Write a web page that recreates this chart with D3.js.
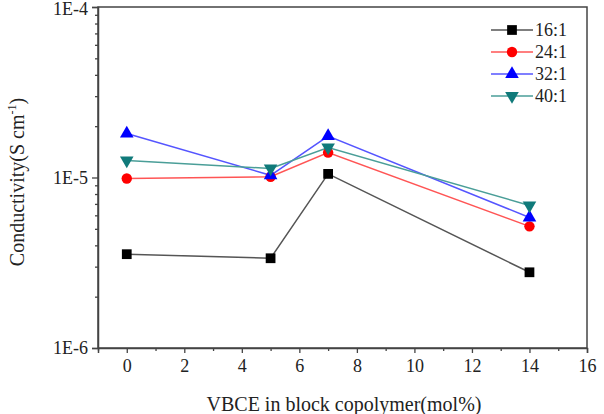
<!DOCTYPE html>
<html>
<head>
<meta charset="utf-8">
<script src="https://cdn.jsdelivr.net/npm/d3@7"></script>
<style>
  body { margin: 0; background: #fff; }
  svg text { font-family: "Liberation Serif", "Times New Roman", serif; fill: #222; }
</style>
</head>
<body>
<div id="chart"></div>
<script>
// VBCE content (mol%)
const xValues = [0, 5, 7, 14];
// conductivity (S cm-1) per EO:Li ratio
const s16 = [3.55e-6, 3.36e-6, 1.05e-5, 2.78e-6];
const s24 = [9.87e-6, 1.01e-5, 1.40e-5, 5.17e-6];
const s32 = [1.81e-5, 1.03e-5, 1.75e-5, 5.83e-6];
const s40 = [1.26e-5, 1.13e-5, 1.50e-5, 6.86e-6];
const seriesNames = ["16:1", "24:1", "32:1", "40:1"];
const xTicks = [0, 2, 4, 6, 8, 10, 12, 14, 16];
const yTicks = [1e-6, 1e-5, 1e-4];
const yTickLabels = ["1E-6", "1E-5", "1E-4"];

const series = [
    { name: seriesNames[0], values: s16, color: "#000000", line: "#555555", shape: d3.symbolSquare, size: 95, rot: 0 },
    { name: seriesNames[1], values: s24, color: "#ff0000", line: "#ff5555", shape: d3.symbolCircle, size: 85, rot: 0 },
    { name: seriesNames[2], values: s32, color: "#0000ff", line: "#5555ff", shape: d3.symbolTriangle, size: 80, rot: 0 },
    { name: seriesNames[3], values: s40, color: "#107a7a", line: "#4a9e98", shape: d3.symbolTriangle, size: 80, rot: 180 }
];

const width = 604, height = 414;
const margin = { top: 7, right: 17, bottom: 66, left: 98 };

const svg = d3.select("#chart").append("svg")
    .attr("width", width)
    .attr("height", height);

const x = d3.scaleLinear().domain([-1, 16]).range([margin.left, width - margin.right]);
const y = d3.scaleLog().domain([1e-6, 1e-4]).range([height - margin.bottom, margin.top]);

// frame (top and right)
svg.append("rect")
    .attr("x", margin.left).attr("y", margin.top)
    .attr("width", width - margin.right - margin.left)
    .attr("height", height - margin.bottom - margin.top)
    .attr("fill", "none").attr("stroke", "#444").attr("stroke-width", 1.5);

// x axis
svg.append("g")
    .attr("transform", `translate(0,${height - margin.bottom})`)
    .call(d3.axisBottom(x).tickValues(xTicks).tickSize(5).tickPadding(6).tickFormat(d3.format("d")));
svg.append("g")
    .attr("transform", `translate(0,${height - margin.bottom})`)
    .call(d3.axisBottom(x).tickValues([-1, 1, 3, 5, 7, 9, 11, 13, 15]).tickSize(3).tickFormat(""))
    .call(g => g.select(".domain").remove());

// y axis
const minor = [];
[1e-6, 1e-5].forEach(b => { for (let k = 2; k <= 9; k++) minor.push(b * k); });
const yAxis = svg.append("g")
    .attr("transform", `translate(${margin.left},0)`)
    .call(d3.axisLeft(y).tickValues(yTicks).tickSize(6).tickPadding(4)
        .tickFormat((d, i) => yTickLabels[i]));
svg.append("g")
    .attr("transform", `translate(${margin.left},0)`)
    .call(d3.axisLeft(y).tickValues(minor).tickSize(3).tickFormat(""))
    .call(g => g.select(".domain").remove());

svg.selectAll(".domain").attr("stroke", "#444").attr("stroke-width", 1.5);
svg.selectAll(".tick line").attr("stroke", "#444").attr("stroke-width", 1.3);
svg.selectAll(".tick text").style("font-size", "18px").attr("fill", "#222");
// keep the top label inside the picture
yAxis.selectAll(".tick text").filter(d => d === 1e-4).attr("dy", "0.42em");

// series lines and markers
const line = d3.line().x((d, i) => x(xValues[i])).y(d => y(d));
series.forEach(s => {
    svg.append("path")
        .datum(s.values)
        .attr("d", line)
        .attr("fill", "none")
        .attr("stroke", s.line)
        .attr("stroke-width", 1.5);
});
series.forEach(s => {
    svg.selectAll(null)
        .data(s.values)
        .enter()
        .append("path")
        .attr("d", d3.symbol().type(s.shape).size(s.size))
        .attr("transform", (d, i) => `translate(${x(xValues[i])},${y(d)}) rotate(${s.rot})`)
        .attr("fill", s.color);
});

// legend
const legend = svg.append("g").attr("transform", "translate(491,30)");
series.forEach((s, i) => {
    const g = legend.append("g").attr("transform", `translate(0,${i * 22})`);
    g.append("line").attr("x1", 0).attr("x2", 42).attr("y1", 0).attr("y2", 0)
        .attr("stroke", s.line).attr("stroke-width", 1.5);
    g.append("path")
        .attr("d", d3.symbol().type(s.shape).size(s.size))
        .attr("transform", `translate(21,0) rotate(${s.rot})`)
        .attr("fill", s.color);
    g.append("text").attr("x", 44).attr("y", 6)
        .style("font-size", "18px").text(s.name);
});

// axis titles
svg.append("text")
    .attr("x", 344).attr("y", 411)
    .attr("text-anchor", "middle")
    .style("font-size", "20px")
    .text("VBCE in block copolymer(mol%)");

const yTitle = svg.append("text")
    .attr("transform", "translate(24,182) rotate(-90)")
    .attr("text-anchor", "middle")
    .style("font-size", "20px");
yTitle.append("tspan").text("Conductivity(S cm");
yTitle.append("tspan").attr("dy", -8).style("font-size", "12px").text("-1");
yTitle.append("tspan").attr("dy", 8).text(")");
</script>
</body>
</html>
